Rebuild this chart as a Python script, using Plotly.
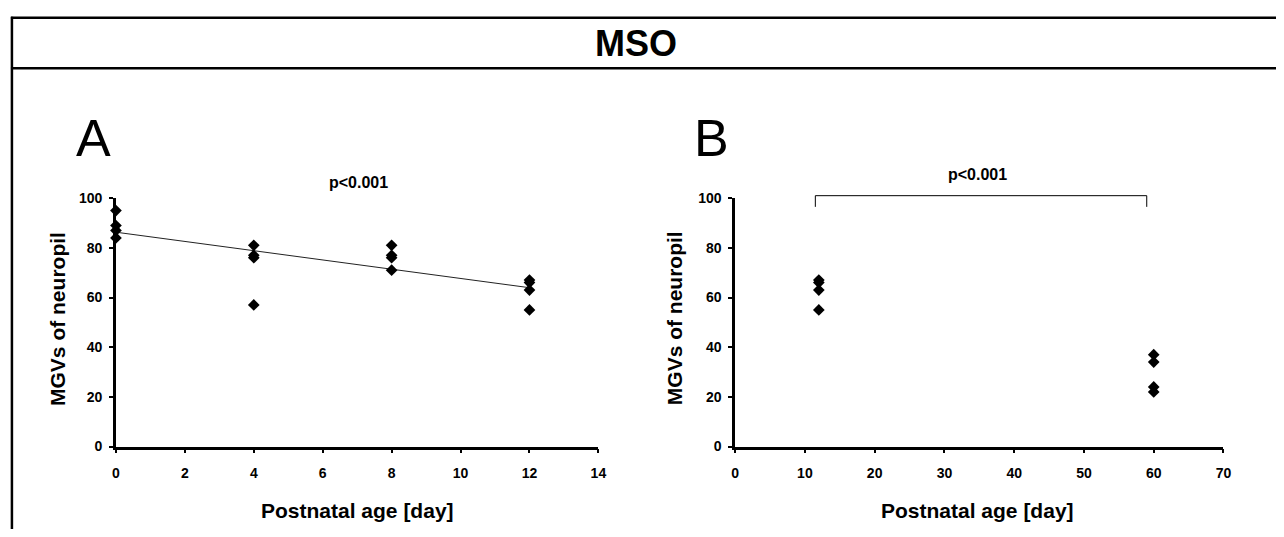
import numpy as np
import plotly.graph_objects as go

# ---------------- data ----------------
age_a = [0, 0, 0, 0, 4, 4, 4, 4, 8, 8, 8, 8, 12, 12, 12, 12]
mgv_a = [95, 89, 87, 84, 81, 77, 76, 57, 81, 77, 76, 71, 67, 66, 63, 55]

age_b = [12, 12, 12, 12, 60, 60, 60, 60]
mgv_b = [67, 66, 63, 55, 37, 34, 24, 22]

xticks_a = [0, 2, 4, 6, 8, 10, 12, 14]
xticks_b = [0, 10, 20, 30, 40, 50, 60, 70]
yticks = [0, 20, 40, 60, 80, 100]

title_text = "MSO"
x_title = "Postnatal age [day]"
y_title = "MGVs of neuropil"
p_text = "p<0.001"
bracket_span = [11.5, 59]      # x extent of the significance bracket (panel B)
bracket_levels = [96.5, 101]   # bottom / top of bracket legs (panel B)

# ---------------- layout helpers ----------------
W, H = 1284, 537
def px(x):
    return x / W
def py(y):
    return 1 - y / H

FONT = "Liberation Sans, Arial, sans-serif"
XDOM_A = [px(113), px(600)]
XDOM_B = [px(738), px(1231)]
YDOM = [py(452), py(196)]
XR_A, XR_B, YR = [0, 14], [0, 70], [0, 100]

def dx(v, dom, rng):
    return dom[0] + (v - rng[0]) / (rng[1] - rng[0]) * (dom[1] - dom[0])

fit = np.polyfit(age_a, mgv_a, 1)
fit_x = np.array([min(age_a), max(age_a)])
fit_y = np.polyval(fit, fit_x)

fig = go.Figure()
fig.add_trace(go.Scatter(x=fit_x, y=fit_y, mode="lines",
                         line=dict(color="#222222", width=1),
                         xaxis="x", yaxis="y", showlegend=False, hoverinfo="skip"))
fig.add_trace(go.Scatter(x=age_a, y=mgv_a, mode="markers",
                         marker=dict(symbol="diamond", size=9, color="black"),
                         xaxis="x", yaxis="y", showlegend=False, cliponaxis=False))
fig.add_trace(go.Scatter(x=age_b, y=mgv_b, mode="markers",
                         marker=dict(symbol="diamond", size=9, color="black"),
                         xaxis="x2", yaxis="y2", showlegend=False, cliponaxis=False))

tickfont = dict(family=FONT, size=14, color="black")

def axis(dom, rng, vals, anchor, standoff):
    return dict(domain=dom, range=rng, tickvals=vals,
                ticktext=["<b>%d</b>" % v for v in vals], anchor=anchor,
                showline=True, linewidth=2.5, linecolor="black", ticks="outside",
                ticklen=4, tickwidth=2, tickcolor="black", showgrid=False,
                zeroline=False, tickfont=tickfont, ticklabelstandoff=standoff,
                fixedrange=True)

fig.update_layout(
    width=W, height=H, margin=dict(l=0, r=0, t=0, b=0),
    paper_bgcolor="white", plot_bgcolor="rgba(0,0,0,0)",
    xaxis=axis(XDOM_A, XR_A, xticks_a, "y", 8),
    yaxis=axis(YDOM, YR, yticks, "x", 4),
    xaxis2=axis(XDOM_B, XR_B, xticks_b, "y2", 8),
    yaxis2=axis(YDOM, YR, yticks, "x2", 4),
)

line_k = dict(color="black", width=2.5)
shapes = [
    dict(type="line", xref="paper", yref="paper", x0=px(7), x1=1, y0=py(10), y1=py(10), line=line_k),
    dict(type="line", xref="paper", yref="paper", x0=px(7), x1=1, y0=py(62), y1=py(62), line=line_k),
    dict(type="line", xref="paper", yref="paper", x0=px(8), x1=px(8), y0=py(9), y1=0, line=line_k),
]
# significance bracket in panel B (converted from data units to paper units)
bx0, bx1 = (dx(v, XDOM_B, XR_B) for v in bracket_span)
by0, by1 = (dx(v, YDOM, YR) for v in bracket_levels)
br = dict(color="black", width=1)
shapes += [
    dict(type="line", xref="paper", yref="paper", x0=bx0, x1=bx1, y0=by1, y1=by1, line=br),
    dict(type="line", xref="paper", yref="paper", x0=bx0, x1=bx0, y0=by0, y1=by1, line=br),
    dict(type="line", xref="paper", yref="paper", x0=bx1, x1=bx1, y0=by0, y1=by1, line=br),
]
fig.update_layout(shapes=shapes)

def text(t, x, y, size, bold=True, angle=0):
    return dict(text=("<b>%s</b>" % t) if bold else t, xref="paper", yref="paper",
                x=x, y=y, xanchor="center", yanchor="middle", textangle=angle,
                showarrow=False, font=dict(family=FONT, size=size, color="black"))

ann = [text(title_text, px(638), py(37), 36)]
ann.append(text("A", px(90), py(134), 52, bold=False))
ann.append(text("B", px(714), py(134), 52, bold=False))
ann.append(text(x_title, px(357), py(518), 21))
ann.append(text(x_title, px(983), py(518), 21))
ann.append(text(y_title, px(54), py(320), 21, angle=-90))
ann.append(text(y_title, px(677), py(320), 21, angle=-90))
ann.append(text(p_text, dx(7.05, XDOM_A, XR_A), py(180), 16))
ann.append(text(p_text, dx(34.7, XDOM_B, XR_B), py(172), 16))
fig.update_layout(annotations=ann)

fig.write_html("out.html")
